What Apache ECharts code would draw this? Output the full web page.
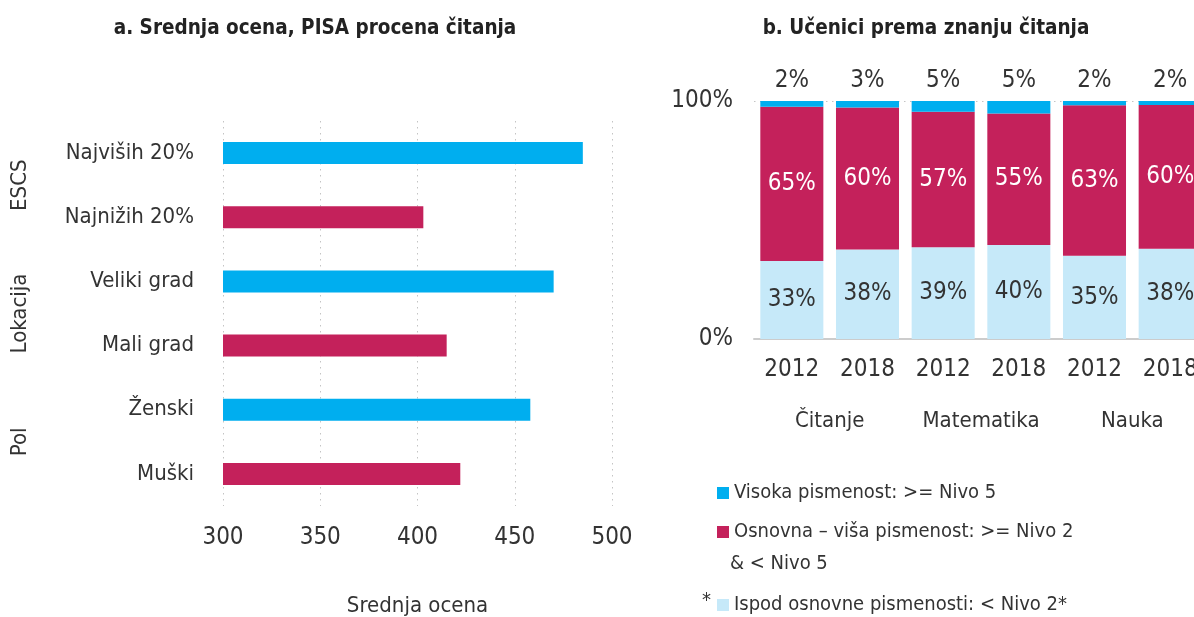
<!DOCTYPE html>
<html>
<head>
<meta charset="utf-8">
<script src="https://cdn.jsdelivr.net/npm/echarts@6/dist/echarts.min.js"></script>
<style>
  html, body { margin: 0; padding: 0; background: #fff; overflow: hidden; }
  #chart { width: 1194px; height: 617px; }
</style>
</head>
<body>
<div id="chart"></div>
<script>
// panel a
var groupNames = ['ESCS', 'Lokacija', 'Pol'];
var groupCats = ['Najviših 20%', 'Najnižih 20%', 'Veliki grad', 'Mali grad', 'Ženski', 'Muški'];
var groupScores = [485, 403, 470, 415, 458, 422];

// panel b
var years = ['2012', '2018', '2012', '2018', '2012', '2018'];
var subjects = ['Čitanje', 'Matematika', 'Nauka'];
var lowShare = [32.8, 37.6, 38.5, 39.5, 35.0, 37.9];
var midShare = [64.8, 59.7, 57.0, 55.3, 63.2, 60.4];
var highShare = [2.4, 2.7, 4.5, 5.2, 1.8, 1.7];

var nameHigh = 'Visoka pismenost: >= Nivo 5';
var nameMid = 'Osnovna – viša pismenost: >= Nivo 2';
var nameLow = 'Ispod osnovne pismenosti: < Nivo 2*';

var BLUE = '#00AEEF', RED = '#C4215B', LIGHT = '#C6E9F9';
var FONT = '"DejaVu Sans Condensed", "Liberation Sans Narrow", sans-serif';
var TXT = '#333333';

var chart = echarts.init(document.getElementById('chart'));

function pct(p) { return Math.round(p.value) + '%'; }

var option = {
  animation: false,
  textStyle: { fontFamily: FONT },
  title: [
    {
      text: 'a. Srednja ocena, PISA procena čitanja',
      left: 310, top: 13, textAlign: 'center',
      textStyle: { fontFamily: FONT, fontSize: 20.5, fontWeight: 'bold', color: '#222' }
    },
    {
      text: 'b. Učenici prema znanju čitanja',
      left: 921, top: 13, textAlign: 'center',
      textStyle: { fontFamily: FONT, fontSize: 20.5, fontWeight: 'bold', color: '#222' }
    }
  ],
  legend: [
    {
      left: 712, top: 478, orient: 'vertical',
      itemWidth: 12, itemHeight: 12, itemGap: 19,
      selectedMode: false, icon: 'rect',
      data: [nameHigh, nameMid],
      textStyle: { fontFamily: FONT, fontSize: 20, color: TXT }
    },
    {
      left: 712, top: 590, orient: 'vertical',
      itemWidth: 12, itemHeight: 12,
      selectedMode: false, icon: 'rect',
      data: [nameLow],
      textStyle: { fontFamily: FONT, fontSize: 20, color: TXT }
    }
  ],
  graphic: [
    { type: 'text', left: 730, top: 554, style: { text: '& < Nivo 5', font: '20px ' + FONT, fill: TXT } },
    { type: 'text', left: 702, top: 591, style: { text: '*', font: '20px ' + FONT, fill: TXT } }
  ],
  // outerBoundsMode none: keep the grids where they are set (panel b runs off the right edge)
  grid: [
    { left: 223, top: 121, width: 389, height: 385, outerBoundsMode: 'none' },
    { left: 754, top: 101, width: 454, height: 238, outerBoundsMode: 'none' }
  ],
  xAxis: [
    {
      gridIndex: 0, type: 'value', min: 300, max: 500, interval: 50,
      name: 'Srednja ocena', nameLocation: 'middle', nameGap: 89,
      nameTextStyle: { fontFamily: FONT, fontSize: 22, color: TXT },
      axisLine: { show: false }, axisTick: { show: false },
      axisLabel: { margin: 20, fontSize: 24, color: TXT, fontFamily: FONT },
      splitLine: { show: true, lineStyle: { type: [1.5, 4.5], color: '#c4c4c4' } }
    },
    {
      gridIndex: 1, type: 'category', data: years,
      axisLine: { show: true, lineStyle: { color: '#cccccc', width: 2 } },
      axisTick: { show: false },
      axisLabel: { interval: 0, margin: 19, fontSize: 24, color: TXT, fontFamily: FONT }
    },
    {
      gridIndex: 1, type: 'category', data: subjects, position: 'bottom', offset: 59,
      axisLine: { show: false }, axisTick: { show: false },
      axisLabel: { interval: 0, margin: 12, fontSize: 22, color: TXT, fontFamily: FONT }
    }
  ],
  yAxis: [
    {
      gridIndex: 0, type: 'category', data: groupCats, inverse: true,
      axisLine: { show: false }, axisTick: { show: false },
      axisLabel: { interval: 0, margin: 29, fontSize: 22, color: TXT, fontFamily: FONT }
    },
    {
      gridIndex: 0, type: 'category', data: groupNames, inverse: true,
      position: 'left', offset: 184,
      axisLine: { show: false }, axisTick: { show: false },
      axisLabel: { interval: 0, rotate: 90, margin: 8, fontSize: 22, color: TXT, fontFamily: FONT }
    },
    {
      gridIndex: 1, type: 'value', min: 0, max: 100, interval: 100,
      axisLine: { show: false }, axisTick: { show: false },
      axisLabel: { margin: 21, fontSize: 24, color: TXT, fontFamily: FONT, formatter: '{value}%' },
      splitLine: { show: true, lineStyle: { type: [1.5, 4.5], color: '#c4c4c4' } }
    }
  ],
  series: [
    {
      type: 'bar', xAxisIndex: 0, yAxisIndex: 0,
      data: groupScores, barWidth: 22,
      itemStyle: {
        color: function (p) { return p.dataIndex % 2 === 0 ? BLUE : RED; }
      }
    },
    {
      name: nameLow, type: 'bar', stack: 'b', xAxisIndex: 1, yAxisIndex: 2,
      data: lowShare, barCategoryGap: '16.7%',
      itemStyle: { color: LIGHT },
      label: { show: true, position: 'inside', formatter: pct, fontSize: 24, color: TXT, fontFamily: FONT }
    },
    {
      name: nameMid, type: 'bar', stack: 'b', xAxisIndex: 1, yAxisIndex: 2,
      data: midShare, barCategoryGap: '16.7%',
      itemStyle: { color: RED },
      label: { show: true, position: 'inside', formatter: pct, fontSize: 24, color: '#fff', fontFamily: FONT }
    },
    {
      name: nameHigh, type: 'bar', stack: 'b', xAxisIndex: 1, yAxisIndex: 2,
      data: highShare, barCategoryGap: '16.7%',
      itemStyle: { color: BLUE },
      label: { show: true, position: 'top', distance: 8, formatter: pct, fontSize: 24, color: TXT, fontFamily: FONT }
    }
  ]
};

chart.setOption(option);
</script>
</body>
</html>
